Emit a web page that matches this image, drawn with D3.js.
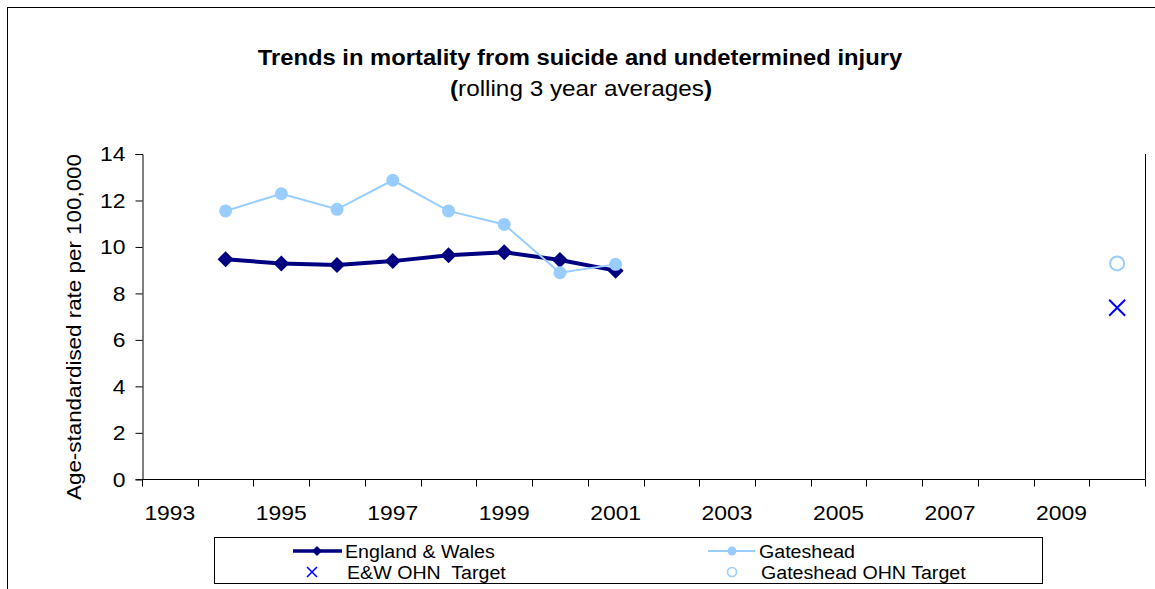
<!DOCTYPE html>
<html><head><meta charset="utf-8">
<script src="https://cdn.jsdelivr.net/npm/d3@7"></script>
<style>
html,body{margin:0;padding:0;background:#fff;}
text{font-family:"Liberation Sans",Arial,sans-serif;fill:#000;}
</style></head>
<body>
<svg id="chart" width="1155" height="589"></svg>
<script>
// ---- data ----
const years = [1993,1994,1995,1996,1997,1998,1999,2000,2001,2002,2003,2004,2005,2006,2007,2008,2009,2010];
const tickLabels = ["1993","1995","1997","1999","2001","2003","2005","2007","2009"];
const yTicks = [0,2,4,6,8,10,12,14];
const dataYears = [1994,1995,1996,1997,1998,1999,2000,2001];
const englandWales = [9.47,9.29,9.22,9.39,9.64,9.77,9.44,8.98];
const gateshead = [11.55,12.29,11.62,12.87,11.55,10.97,8.89,9.25];
const targetYear = 2010;
const ewTarget = 7.38;
const gatesheadTarget = 9.29;

const STRETCH = 1.09;
function stretch(sel, k){
  const f = k || STRETCH;
  sel.each(function(){
    const w = this.getComputedTextLength();
    d3.select(this).attr("textLength", w*f).attr("lengthAdjust","spacingAndGlyphs");
  });
}

const svg = d3.select("#chart");
// outer frame
svg.append("rect").attr("x",7.5).attr("y",7.5).attr("width",1200).attr("height",700)
  .attr("fill","none").attr("stroke","#000").attr("stroke-width",1);

const x = d3.scaleBand().domain(years).range([142,1145]).padding(0);
const y = d3.scaleLinear().domain([0,14]).range([479.3,154]);
const cx = d => x(d) + x.bandwidth()/2;

// plot frame right edge
svg.append("line").attr("x1",1145.5).attr("x2",1145.5).attr("y1",y(14)).attr("y2",y(0))
  .attr("stroke","#000");

// Y axis
const gy = svg.append("g").attr("transform","translate(142.5,0)")
  .call(d3.axisLeft(y).tickValues(yTicks).tickSize(7).tickPadding(10).tickFormat(d3.format("d")));
gy.select(".domain").attr("stroke","#000");
gy.selectAll("text").attr("font-size",21).attr("font-family","Liberation Sans, Arial, sans-serif").attr("fill","#000").call(stretch);

// X axis
const gx = svg.append("g").attr("transform","translate(0,479.5)");
gx.append("line").attr("x1",142).attr("x2",1145.5).attr("y1",0).attr("y2",0).attr("stroke","#000");
const tickPos = years.map(d=>x(d)).concat([x.range()[1]]);
gx.selectAll("line.tk").data(tickPos).join("line").attr("class","tk")
  .attr("x1",d=>Math.round(d)+0.5).attr("x2",d=>Math.round(d)+0.5).attr("y1",0).attr("y2",7).attr("stroke","#000");
gx.selectAll("text").data(tickLabels).join("text")
  .attr("x",d=>cx(+d)).attr("y",40.5).attr("text-anchor","middle").attr("font-size",21).text(d=>d).call(stretch);

// Y axis title
svg.append("text").attr("transform","translate(81,327) rotate(-90)").attr("text-anchor","middle")
  .attr("font-size",21).attr("textLength",346).attr("lengthAdjust","spacingAndGlyphs")
  .text("Age-standardised rate per 100,000");

// Title
svg.append("text").attr("x",580).attr("y",65).attr("text-anchor","middle").attr("font-size",22).attr("font-weight","bold")
  .text("Trends in mortality from suicide and undetermined injury").call(stretch, 1.08);
const sub = svg.append("text").attr("x",581).attr("y",96).attr("text-anchor","middle").attr("font-size",22.5);
sub.append("tspan").attr("font-weight","bold").text("(");
sub.append("tspan").text("rolling 3 year averages");
sub.append("tspan").attr("font-weight","bold").text(")");
sub.call(stretch, 1.08);

// lines
const ewData = dataYears.map((d,i)=>({year:d,v:englandWales[i]}));
const gsData = dataYears.map((d,i)=>({year:d,v:gateshead[i]}));
const line = d3.line().x(d=>cx(d.year)).y(d=>y(d.v));
const NAVY = "#000080", LIGHT = "#99CCFF", BLUE = "#0000FF";

svg.append("path").datum(ewData).attr("d",line).attr("fill","none").attr("stroke",NAVY).attr("stroke-width",4).attr("stroke-linejoin","round");
svg.selectAll("path.dia").data(ewData).join("path").attr("class","dia")
  .attr("d", d=>`M${cx(d.year)},${y(d.v)-8}L${cx(d.year)+8},${y(d.v)}L${cx(d.year)},${y(d.v)+8}L${cx(d.year)-8},${y(d.v)}Z`)
  .attr("fill",NAVY);

svg.append("path").datum(gsData).attr("d",line).attr("fill","none").attr("stroke",LIGHT).attr("stroke-width",2);
svg.selectAll("circle.gs").data(gsData).join("circle").attr("class","gs")
  .attr("cx",d=>cx(d.year)).attr("cy",d=>y(d.v)).attr("r",6.5).attr("fill",LIGHT);

// targets
svg.append("circle").attr("cx",cx(targetYear)).attr("cy",y(gatesheadTarget)).attr("r",7).attr("fill","none").attr("stroke",LIGHT).attr("stroke-width",2);
const tx = cx(targetYear), ty = y(ewTarget), s = 8;
svg.append("path").attr("d",`M${tx-s},${ty-s}L${tx+s},${ty+s}M${tx-s},${ty+s}L${tx+s},${ty-s}`).attr("stroke",BLUE).attr("stroke-width",2);

// legend
const lg = svg.append("g");
lg.append("rect").attr("x",214.5).attr("y",537.5).attr("width",828).attr("height",46).attr("fill","#fff").attr("stroke","#000");
const r1 = 551, r2 = 572;
lg.append("line").attr("x1",293).attr("x2",342).attr("y1",r1).attr("y2",r1).attr("stroke",NAVY).attr("stroke-width",3.5);
lg.append("path").attr("d",`M317,${r1-5}L322,${r1}L317,${r1+5}L312,${r1}Z`).attr("fill",NAVY);
lg.append("path").attr("d",`M${312-5},${r2-5}L${312+5},${r2+5}M${312-5},${r2+5}L${312+5},${r2-5}`).attr("stroke",BLUE).attr("stroke-width",1.6);
lg.append("line").attr("x1",708).attr("x2",755).attr("y1",r1).attr("y2",r1).attr("stroke",LIGHT).attr("stroke-width",2);
lg.append("circle").attr("cx",732).attr("cy",r1).attr("r",4.5).attr("fill",LIGHT);
lg.append("circle").attr("cx",732).attr("cy",r2).attr("r",4.5).attr("fill","none").attr("stroke",LIGHT).attr("stroke-width",1.6);
const lt = [["England & Wales",345,r1],["E&W OHN  Target",347,r2],["Gateshead",759,r1],["Gateshead OHN Target",761,r2]];
lg.selectAll("text").data(lt).join("text").attr("x",d=>d[1]).attr("y",d=>d[2]+6.5).attr("font-size",18)
  .attr("xml:space","preserve").style("white-space","pre").text(d=>d[0]).call(stretch);
</script>
</body></html>
